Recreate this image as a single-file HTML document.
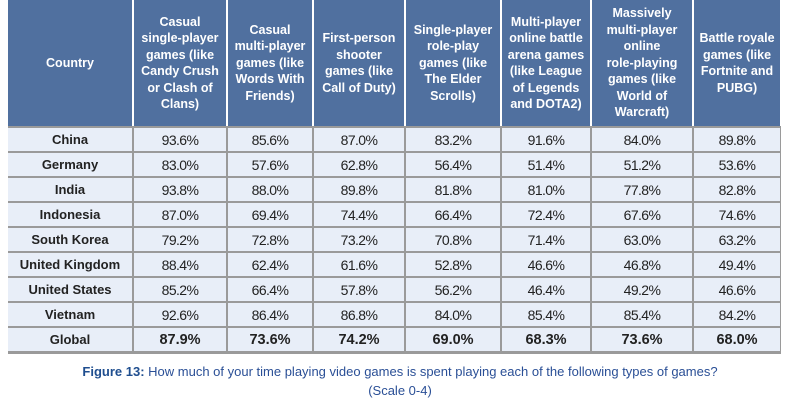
<!DOCTYPE html><html><head><style>
body{margin:0;width:800px;height:400px;background:#fff;position:relative;font-family:"Liberation Sans",sans-serif;overflow:hidden}
.h{position:absolute;top:0;height:126px;background:#50709f;color:#fff;font-weight:bold;font-size:12.5px;line-height:16.5px;display:flex;align-items:center;justify-content:center;text-align:center}
.c{position:absolute;height:23px;background:#e8eef8;display:flex;align-items:center;justify-content:center;font-size:14px;color:#222;letter-spacing:-0.6px}
.k{font-weight:bold;font-size:13px;letter-spacing:0}
.g{font-weight:bold;font-size:14.5px;letter-spacing:0}
#grid{position:absolute;left:8px;top:126px;width:773px;height:228px;background:#9a9a9a}
.cap{position:absolute;left:0;width:800px;text-align:center;color:#2a4f96;font-size:13px}
</style></head><body>
<div id="grid"></div>
<div id="t"></div>
<div class="cap" style="top:364px"><b style="color:#1f4e8f">Figure 13:</b> How much of your time playing video games is spent playing each of the following types of games?</div>
<div class="cap" style="top:383px">(Scale 0-4)</div>
<script>
var L=[8,133,227,313,405,501,591,693,781];
var H=["Country","Casual<br>single-player<br>games (like<br>Candy Crush<br>or Clash of<br>Clans)","Casual<br>multi-player<br>games (like<br>Words With<br>Friends)","First-person<br>shooter<br>games (like<br>Call of Duty)","Single-player<br>role-play<br>games (like<br>The Elder<br>Scrolls)","Multi-player<br>online battle<br>arena games<br>(like League<br>of Legends<br>and DOTA2)","Massively<br>multi-player<br>online<br>role-playing<br>games (like<br>World of<br>Warcraft)","Battle royale<br>games (like<br>Fortnite and<br>PUBG)"];
var R=[["China","93.6%","85.6%","87.0%","83.2%","91.6%","84.0%","89.8%"],
["Germany","83.0%","57.6%","62.8%","56.4%","51.4%","51.2%","53.6%"],
["India","93.8%","88.0%","89.8%","81.8%","81.0%","77.8%","82.8%"],
["Indonesia","87.0%","69.4%","74.4%","66.4%","72.4%","67.6%","74.6%"],
["South Korea","79.2%","72.8%","73.2%","70.8%","71.4%","63.0%","63.2%"],
["United Kingdom","88.4%","62.4%","61.6%","52.8%","46.6%","46.8%","49.4%"],
["United States","85.2%","66.4%","57.8%","56.2%","46.4%","49.2%","46.6%"],
["Vietnam","92.6%","86.4%","86.8%","84.0%","85.4%","85.4%","84.2%"],
["Global","87.9%","73.6%","74.2%","69.0%","68.3%","73.6%","68.0%"]];
var s="";
for(var i=0;i<8;i++){var l=L[i]+(i?1:0),w=L[i+1]-l-1;s+='<div class="h" style="left:'+l+'px;width:'+w+'px">'+H[i]+'</div>';}
for(var r=0;r<9;r++){var t=128+r*25;for(var i=0;i<8;i++){var l=L[i]+(i?1:0),w=L[i+1]-l-1;var cls="c"+(i==0?" k":"")+(r==8&&i>0?" g":"");s+='<div class="'+cls+'" style="left:'+l+'px;width:'+w+'px;top:'+t+'px">'+R[r][i]+'</div>';}}
document.getElementById("t").innerHTML=s;
</script>
</body></html>
